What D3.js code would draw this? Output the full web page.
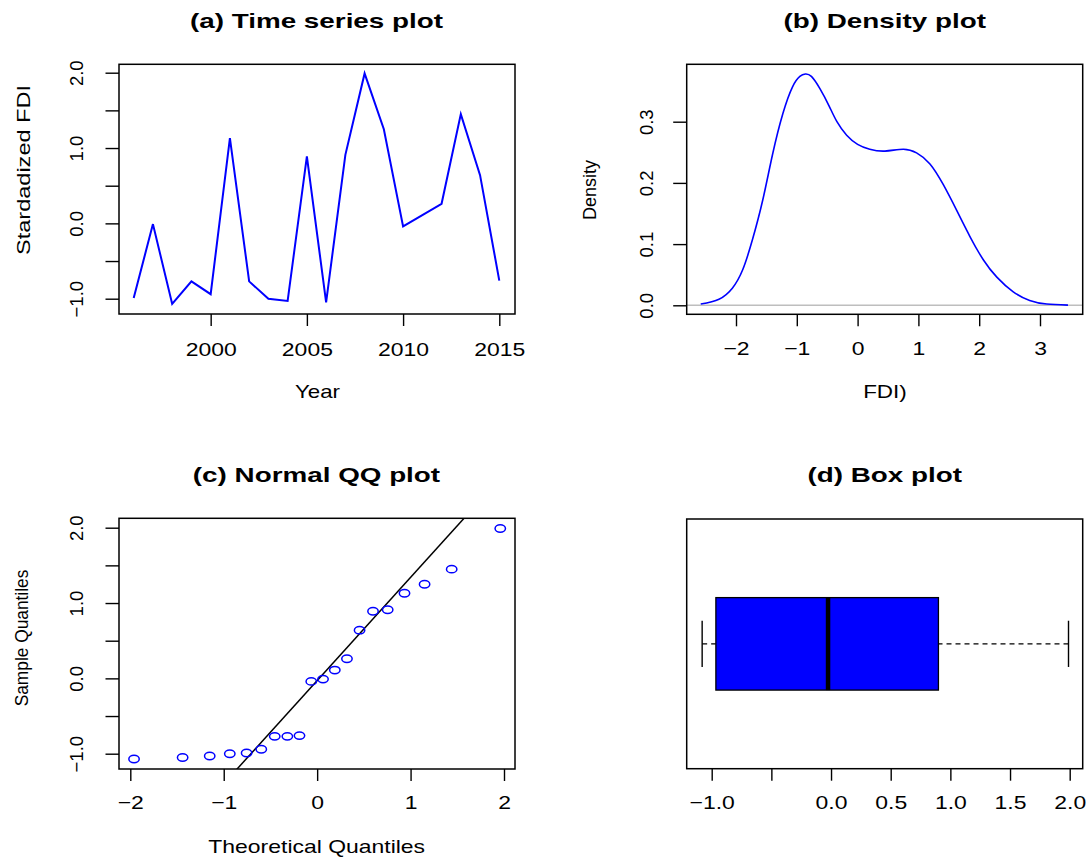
<!DOCTYPE html>
<html><head><meta charset="utf-8">
<script src="https://cdn.jsdelivr.net/npm/d3@7"></script>
<style>
body{margin:0;background:#fff}
svg{display:block}
text{font-family:"Liberation Sans",Arial,Helvetica,sans-serif;fill:#000}
</style>
</head><body>
<svg id="chart" width="1089" height="858"></svg>
<script>
// ---------------- data ----------------
const years = [1996,1997,1998,1999,2000,2001,2002,2003,2004,2005,2006,2007,2008,2009,2010,2011,2012,2013,2014,2015];
const fdi = [-0.99,-0.01,-1.07,-0.77,-0.94,1.13,-0.77,-1.00,-1.03,0.89,-1.05,0.91,1.99,1.25,-0.04,0.11,0.26,1.45,0.64,-0.76];

const densityX = [-2.58,-2.28,-2.06,-1.89,-1.73,-1.56,-1.40,-1.23,-1.07,-0.95,-0.86,-0.76,-0.62,-0.47,-0.34,-0.18,0.00,0.20,0.45,0.75,0.97,1.19,1.41,1.63,1.85,2.07,2.29,2.56,2.83,3.11,3.46];
const densityY = [0.002,0.010,0.028,0.058,0.107,0.172,0.246,0.313,0.357,0.374,0.378,0.374,0.354,0.326,0.300,0.278,0.263,0.255,0.252,0.255,0.249,0.231,0.197,0.155,0.112,0.074,0.046,0.022,0.008,0.002,0.0003];

const theoQuantiles = [-1.96,-1.44,-1.15,-0.935,-0.755,-0.598,-0.454,-0.319,-0.189,-0.063,0.063,0.189,0.319,0.454,0.598,0.755,0.935,1.15,1.44,1.96];
const qqLineCoef = [-0.029, 1.37]; // intercept, slope

const boxStats = [-1.08,-0.965,-0.025,0.90,1.99]; // min, Q1, median, Q3, max

const titles = ["(a) Time series plot","(b) Density plot","(c) Normal QQ plot","(d) Box plot"];
const xLabels = ["Year","FDI)","Theoretical Quantiles",""];
const yLabels = ["Stardadized FDI","Density","Sample Quantiles",""];

const tsXTicks = [2000,2005,2010,2015];
const tsXTickLabels = ["2000","2005","2010","2015"];
const stdYTicks = [-1,-0.5,0,0.5,1,1.5,2];
const stdYTickLabels = ["\u22121.0","","0.0","","1.0","","2.0"];
const densXTicks = [-2,-1,0,1,2,3];
const densXTickLabels = ["\u22122","\u22121","0","1","2","3"];
const densYTicks = [0,0.1,0.2,0.3];
const densYTickLabels = ["0.0","0.1","0.2","0.3"];
const qqXTicks = [-2,-1,0,1,2];
const qqXTickLabels = ["\u22122","\u22121","0","1","2"];
const boxXTicks = [-1,-0.5,0,0.5,1,1.5,2];
const boxXTickLabels = ["\u22121.0","","0.0","0.5","1.0","1.5","2.0"];

// ---------------- layout ----------------
const P = {
  a:{x0:119,   x1:515,    y0:64.3,  y1:314},
  b:{x0:686.7, x1:1082.7, y0:64.3,  y1:314.3},
  c:{x0:119,   x1:515,    y0:518.3, y1:769},
  d:{x0:686.7, x1:1082.7, y0:519,   y1:768.7}
};
const FS = 18.5, HSTRETCH = 1.24;
const svg = d3.select("#chart");

function stretch(sel, factor){
  sel.each(function(){
    const n = this.getComputedTextLength();
    if(n>0){ d3.select(this).attr("textLength", n*factor).attr("lengthAdjust","spacingAndGlyphs"); }
  });
}
function fixLen(sel, len){ sel.attr("textLength", len).attr("lengthAdjust","spacingAndGlyphs"); }

function frame(p){
  svg.append("rect").attr("x",p.x0).attr("y",p.y0).attr("width",p.x1-p.x0).attr("height",p.y1-p.y0)
    .attr("fill","none").attr("stroke","#000").attr("stroke-width",1.5);
}
function xAxis(scale, ticks, labels, y, off){
  const g = svg.append("g").attr("transform",`translate(0,${y})`)
    .call(d3.axisBottom(scale).tickValues(ticks).tickSize(12).tickFormat((d,i)=>labels[i]));
  g.select(".domain").remove();
  g.selectAll(".tick line").attr("stroke","#000").attr("stroke-width",1.4);
  const t = g.selectAll(".tick text").attr("y",off).attr("dy",null)
    .attr("font-size",FS).attr("fill","#000").attr("font-family",null);
  stretch(t, HSTRETCH);
  return g;
}
function yAxis(scale, ticks, labels, x, off){
  const g = svg.append("g").attr("transform",`translate(${x},0)`)
    .call(d3.axisLeft(scale).tickValues(ticks).tickSize(13.5).tickFormat((d,i)=>labels[i]));
  g.select(".domain").remove();
  g.selectAll(".tick line").attr("stroke","#000").attr("stroke-width",1.4);
  g.selectAll(".tick text").attr("transform","rotate(-90)").attr("x",0).attr("y",-off)
    .attr("dy",null).attr("text-anchor","middle").attr("font-size",FS).attr("fill","#000").attr("font-family",null);
  return g;
}
function title(txt, cx, by){
  return svg.append("text").attr("x",cx).attr("y",by).attr("text-anchor","middle")
    .attr("font-size",21).attr("font-weight","bold").text(txt);
}
function hLabel(txt, cx, by, len){
  const t = svg.append("text").attr("x",cx).attr("y",by).attr("text-anchor","middle").attr("font-size",FS).text(txt);
  fixLen(t, len);
}
function vLabel(txt, bx, cy, len, fs){
  const t = svg.append("text").attr("transform",`translate(${bx},${cy}) rotate(-90)`)
    .attr("text-anchor","middle").attr("font-size",fs||FS).text(txt);
  fixLen(t, len);
}

// titles (stretched uniformly so (a) spans its measured width)
const tA = title(titles[0], 316.5, 28);
const tB = title(titles[1], 884.7, 28);
const tC = title(titles[2], 316.5, 482);
const tD = title(titles[3], 884.7, 482);
const tFactor = 253 / tA.node().getComputedTextLength();
[tA,tB,tC,tD].forEach(t=>stretch(t, tFactor));

// ---------------- (a) time series ----------------
{
  const p = P.a;
  const x = d3.scaleLinear().domain([1996,2015]).range([133.7,499.3]);
  const y = d3.scaleLinear().domain([-1,2]).range([298.7,72.7]);
  svg.append("path").datum(years.map((yr,i)=>[yr,fdi[i]]))
    .attr("d", d3.line().x(d=>x(d[0])).y(d=>y(d[1])))
    .attr("fill","none").attr("stroke","#0000FF").attr("stroke-width",2).attr("stroke-linejoin","miter");
  frame(p);
  xAxis(x, tsXTicks, tsXTickLabels, p.y1, 41.7);
  yAxis(y, stdYTicks, stdYTickLabels, p.x0, 35.7);
  hLabel(xLabels[0], 317.5, 398.3, 45);
  vLabel(yLabels[0], 30, 170, 170, FS);
}

// ---------------- (b) density ----------------
{
  const p = P.b;
  const x = d3.scaleLinear().domain([-2,3]).range([736,1040]);
  const y = d3.scaleLinear().domain([0,0.3]).range([305.3,121.7]);
  svg.append("line").attr("x1",p.x0).attr("x2",p.x1).attr("y1",y(0)).attr("y2",y(0))
    .attr("stroke","#BEBEBE").attr("stroke-width",1.5);
  svg.append("path").datum(densityX.map((v,i)=>[v,densityY[i]]))
    .attr("d", d3.line().x(d=>x(d[0])).y(d=>y(d[1])).curve(d3.curveNatural))
    .attr("fill","none").attr("stroke","#0000FF").attr("stroke-width",1.6);
  frame(p);
  xAxis(x, densXTicks, densXTickLabels, p.y1, 40.7);
  yAxis(y, densYTicks, densYTickLabels, p.x0, 33.4);
  hLabel(xLabels[1], 885, 398.3, 43.7);
  vLabel(yLabels[1], 596, 190, 60);
}

// ---------------- (c) QQ plot ----------------
{
  const p = P.c;
  const x = d3.scaleLinear().domain([-2,2]).range([130.3,504]);
  const y = d3.scaleLinear().domain([-1,2]).range([753.7,527.7]);
  const sorted = fdi.slice().sort(d3.ascending);
  svg.append("clipPath").attr("id","qqclip").append("rect")
    .attr("x",p.x0).attr("y",p.y0).attr("width",p.x1-p.x0).attr("height",p.y1-p.y0);
  const xd = [-3,3];
  svg.append("line").attr("clip-path","url(#qqclip)")
    .attr("x1",x(xd[0])).attr("y1",y(qqLineCoef[0]+qqLineCoef[1]*xd[0]))
    .attr("x2",x(xd[1])).attr("y2",y(qqLineCoef[0]+qqLineCoef[1]*xd[1]))
    .attr("stroke","#000").attr("stroke-width",1.5);
  svg.append("g").selectAll("ellipse").data(theoQuantiles).join("ellipse")
    .attr("cx",d=>x(d)).attr("cy",(d,i)=>y(sorted[i])).attr("rx",5.2).attr("ry",3.7)
    .attr("fill","none").attr("stroke","#0000FF").attr("stroke-width",1.5);
  frame(p);
  xAxis(x, qqXTicks, qqXTickLabels, p.y1, 40.3);
  yAxis(y, stdYTicks, stdYTickLabels, p.x0, 35.7);
  hLabel(xLabels[2], 316.7, 852.7, 216.7);
  vLabel(yLabels[2], 28, 638, 136.7);
}

// ---------------- (d) box plot ----------------
{
  const p = P.d;
  const x = d3.scaleLinear().domain([-1,2]).range([711.7,1069.7]);
  const y = d3.scaleLinear().domain([0.46,1.54]).range([p.y1,p.y0]);
  const [mn,q1,md,q3,mx] = boxStats;
  const g = svg.append("g");
  g.append("line").attr("x1",x(mn)).attr("x2",x(q1)).attr("y1",y(1)).attr("y2",y(1))
    .attr("stroke","#000").attr("stroke-width",1.3).attr("stroke-dasharray","5,4");
  g.append("line").attr("x1",x(mx)).attr("x2",x(q3)).attr("y1",y(1)).attr("y2",y(1))
    .attr("stroke","#000").attr("stroke-width",1.3).attr("stroke-dasharray","5,4");
  [mn,mx].forEach(v=>g.append("line").attr("x1",x(v)).attr("x2",x(v)).attr("y1",y(0.9)).attr("y2",y(1.1))
    .attr("stroke","#000").attr("stroke-width",1.4));
  g.append("rect").attr("x",x(q1)).attr("y",y(1.2)).attr("width",x(q3)-x(q1)).attr("height",y(0.8)-y(1.2))
    .attr("fill","#0000FF").attr("stroke","#000").attr("stroke-width",1.3);
  g.append("line").attr("x1",x(md)).attr("x2",x(md)).attr("y1",y(1.2)).attr("y2",y(0.8))
    .attr("stroke","#000").attr("stroke-width",4.5);
  frame(p);
  xAxis(x, boxXTicks, boxXTickLabels, p.y1, 40.6);
}
</script>
</body></html>
